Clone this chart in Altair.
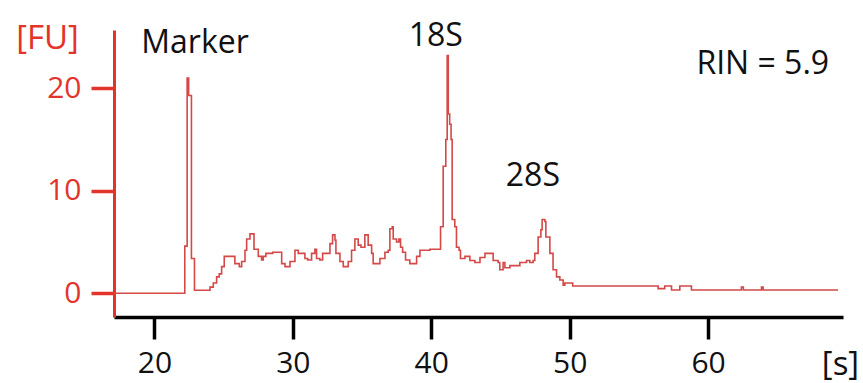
import altair as alt
import pandas as pd

# Electropherogram trace (step levels): migration time [s] and fluorescence [FU]
time_s = [17.08, 22.19, 22.36, 22.47, 22.67, 22.89, 24.01, 24.25, 24.49, 24.68,
          24.85, 25.04, 25.81, 26.13, 26.30, 26.54, 26.66, 26.90, 27.19, 27.50,
          27.74, 27.86, 28.05, 28.54, 29.19, 29.43, 29.79, 30.15, 30.39, 30.87,
          31.07, 31.35, 31.59, 31.71, 31.95, 32.15, 32.68, 32.87, 33.04, 33.11,
          33.40, 33.64, 34.00, 34.24, 34.48, 34.72, 34.92, 35.20, 35.44, 35.69,
          35.80, 36.29, 36.65, 36.89, 37.01, 37.18, 37.25, 37.49, 37.66, 37.78,
          37.93, 38.14, 38.45, 38.94, 39.18, 39.90, 40.67, 40.86, 41.05, 41.15,
          41.23, 41.33, 41.43, 41.51, 41.70, 41.82, 42.01, 42.11, 42.43, 42.79,
          43.15, 43.52, 43.88, 44.47, 44.83, 44.95, 45.19, 45.32, 45.68, 46.40,
          46.88, 47.12, 47.36, 47.48, 47.72, 47.92, 48.01, 48.21, 48.28, 48.57,
          48.80, 49.05, 49.29, 49.53, 49.65, 50.22, 56.39, 56.87, 57.36, 57.96,
          58.80, 62.41, 62.55, 62.65, 63.86, 63.98, 64.10, 69.39]
fu = [0.0, 4.6, 21.0, 19.3, 3.4, 0.3, 0.6, 1.0, 1.6, 1.9,
      2.6, 3.6, 2.9, 2.6, 3.1, 4.2, 5.3, 5.8, 4.3, 3.6,
      3.25, 3.6, 3.9, 4.0, 2.9, 2.6, 3.1, 4.2, 3.9, 3.4,
      3.25, 3.9, 4.3, 3.4, 3.25, 3.9, 4.85, 5.7, 5.2, 3.9,
      3.1, 2.6, 3.1, 4.2, 5.3, 4.7, 4.5, 5.7, 4.7, 3.9,
      2.9, 3.4, 4.0, 4.2, 6.3, 6.5, 5.3, 5.0, 5.3, 4.5,
      4.0, 3.25, 2.9, 3.6, 4.2, 4.3, 6.5, 12.4, 15.0, 23.2,
      17.5, 16.5, 15.0, 7.2, 6.5, 4.5, 4.2, 3.4, 3.6, 3.2,
      3.0, 3.5, 3.9, 3.2, 3.0, 2.3, 3.0, 2.5, 2.7, 3.0,
      3.2, 3.0, 3.2, 3.9, 5.5, 6.2, 7.2, 7.0, 5.5, 3.9,
      2.3, 1.6, 1.3, 0.8, 1.0, 0.71, 0.46, 0.71, 0.32, 0.71,
      0.32, 0.6, 0.32, 0.32, 0.6, 0.32, 0.32, 0.32]

# Annotations
ann_text = ["Marker", "18S", "28S", "RIN = 5.9"]
ann_x = [22.93, 40.33, 47.34, 63.95]
ann_y = [24.42, 25.1, 11.44, 22.36]

x_ticks = [20, 30, 40, 50, 60]
y_ticks = [0, 10, 20]

RED = "#e3342b"
TRACE = "#d44848"
FONT = "Open Sans"

trace_df = pd.DataFrame({"t": time_s, "fu": fu})
ann_df = pd.DataFrame({"label": ann_text, "t": ann_x, "fu": ann_y})

xscale = alt.Scale(domain=[17.075, 69.75], nice=False, zero=False)
yscale = alt.Scale(domain=[-2.31, 25.69], nice=False, zero=False)

line = alt.Chart(trace_df).mark_line(
    interpolate="step-after", color=TRACE, strokeWidth=1.6
).encode(
    x=alt.X("t:Q", scale=xscale, axis=alt.Axis(
        values=x_ticks, title="[s]", grid=False,
        domainColor="black", domainWidth=3.5,
        tickColor="black", tickWidth=3.5, tickSize=22,
        labelFont=FONT, labelFontSize=30, labelColor="#111111", labelPadding=9,
        titleFont=FONT, titleFontSize=33, titleFontWeight="normal", titleColor="#111111",
        titleX=726, titleY=57, titleAngle=0, titleAlign="center", titleBaseline="alphabetic",
    )),
    y=alt.Y("fu:Q", scale=yscale, axis=alt.Axis(
        values=y_ticks, title="[FU]", grid=False,
        domainColor=RED, domainWidth=3,
        tickColor=RED, tickWidth=3.5, tickSize=23,
        labelFont=FONT, labelFontSize=30, labelColor=RED, labelPadding=10,
        titleFont=FONT, titleFontSize=33, titleFontWeight="normal", titleColor=RED,
        titleX=-67, titleY=8, titleAngle=0, titleAlign="center", titleBaseline="middle",
    )),
)

text = alt.Chart(ann_df).mark_text(
    font=FONT, fontSize=32, color="#111111", align="center", baseline="middle"
).encode(
    x=alt.X("t:Q", scale=xscale),
    y=alt.Y("fu:Q", scale=yscale),
    text="label:N",
)

chart = alt.layer(line, text).properties(
    width=729, height=287,
    padding={"left": 114, "top": 30, "right": 20, "bottom": 66},
    autosize=alt.AutoSizeParams(type="none"),
    background="white",
).configure_view(stroke=None)

chart.save("out.html", embed_options={"renderer": "svg", "actions": False})
